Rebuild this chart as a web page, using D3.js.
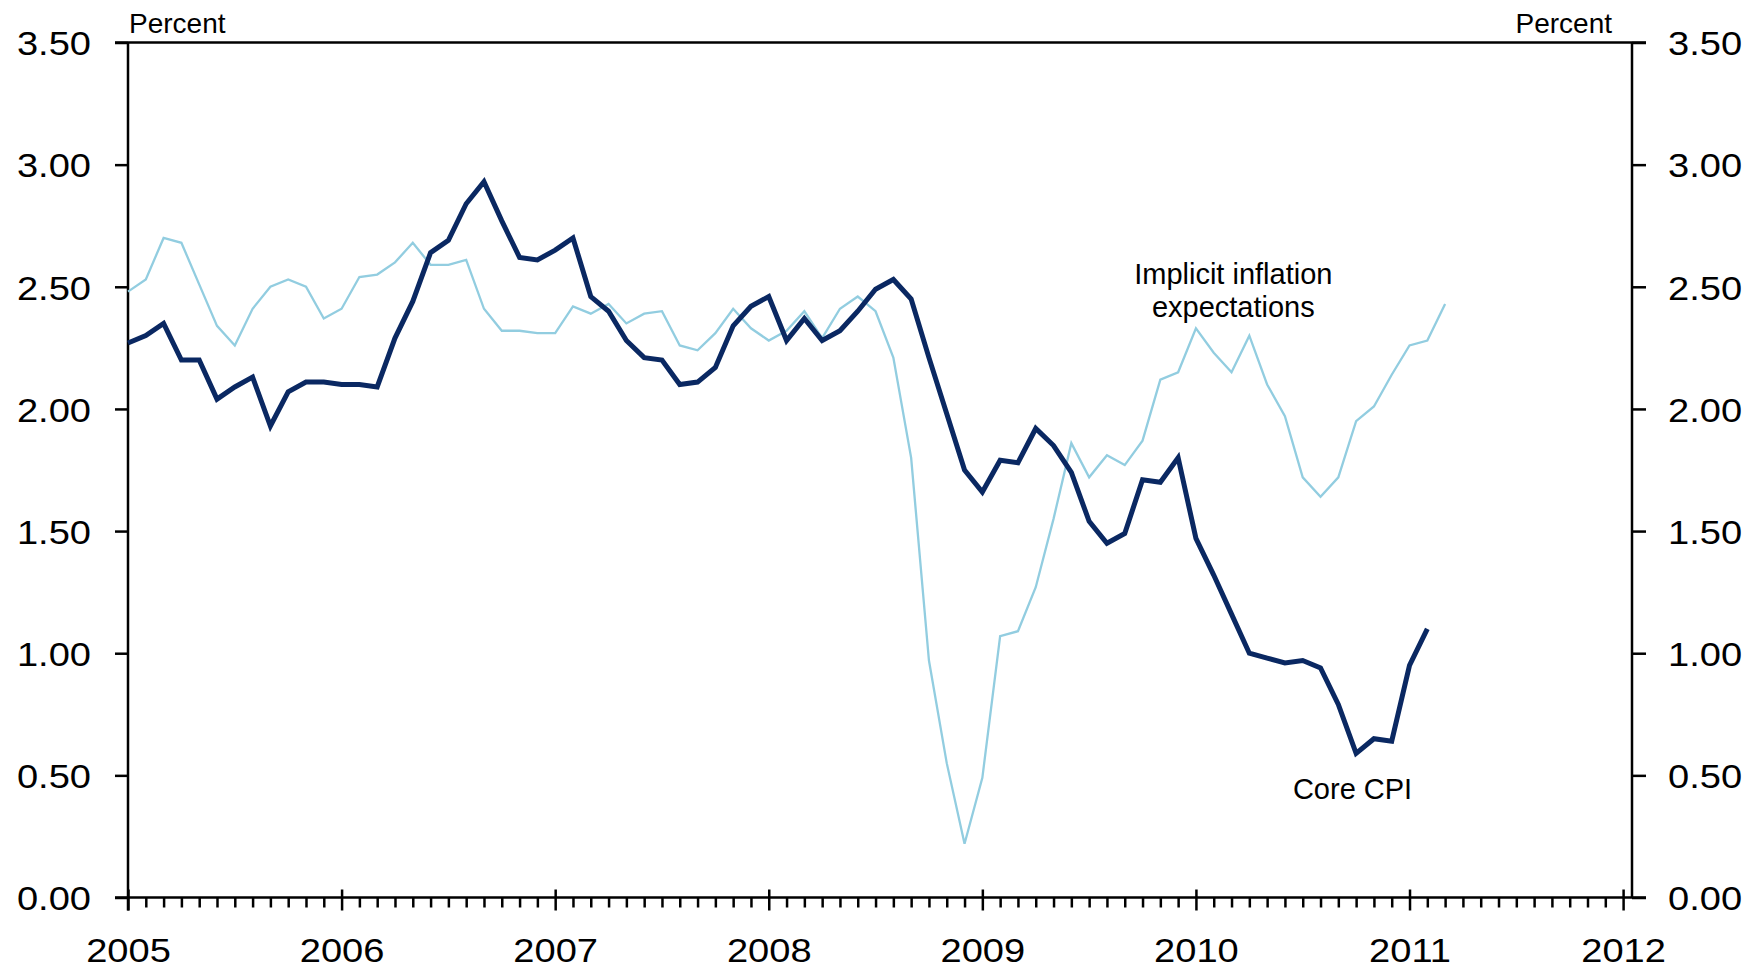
<!DOCTYPE html>
<html>
<head>
    <meta charset="utf-8">
    <title>Core CPI and implicit inflation expectations</title>
    <script src="https://d3js.org/d3.v7.min.js"></script>
    <style>
        body { margin: 0; background: #fff; }
        text { font-family: "Liberation Sans", Arial, sans-serif; fill: #000; }
    </style>
</head>
<body>
<div id="chart"></div>
<script>
    // Monthly data, starting January 2005 (index 0)
    var startYear = 2005;
    var yearLabels = ["2005", "2006", "2007", "2008", "2009", "2010", "2011", "2012"];
    var yTicks = [0, 0.5, 1.0, 1.5, 2.0, 2.5, 3.0, 3.5];

    var coreCPI = [
        2.27, 2.30, 2.35, 2.20, 2.20, 2.04, 2.09, 2.13, 1.93, 2.07, 2.11, 2.11,
        2.10, 2.10, 2.09, 2.29, 2.44, 2.64, 2.69, 2.84, 2.93, 2.77, 2.62, 2.61,
        2.65, 2.70, 2.46, 2.40, 2.28, 2.21, 2.20, 2.10, 2.11, 2.17, 2.34, 2.42,
        2.46, 2.28, 2.37, 2.28, 2.32, 2.40, 2.49, 2.53, 2.45, 2.21, 1.98, 1.75,
        1.66, 1.79, 1.78, 1.92, 1.85, 1.74, 1.54, 1.45, 1.49, 1.71, 1.70, 1.80,
        1.47, 1.32, 1.16, 1.00, 0.98, 0.96, 0.97, 0.94, 0.79, 0.59, 0.65, 0.64,
        0.95, 1.10
    ];

    var implicitExp = [
        2.48, 2.53, 2.70, 2.68, 2.51, 2.34, 2.26, 2.41, 2.50, 2.53, 2.50, 2.37,
        2.41, 2.54, 2.55, 2.60, 2.68, 2.59, 2.59, 2.61, 2.41, 2.32, 2.32, 2.31,
        2.31, 2.42, 2.39, 2.43, 2.35, 2.39, 2.40, 2.26, 2.24, 2.31, 2.41, 2.33,
        2.28, 2.32, 2.40, 2.29, 2.41, 2.46, 2.40, 2.21, 1.80, 0.97, 0.55, 0.22,
        0.49, 1.07, 1.09, 1.27, 1.55, 1.86, 1.72, 1.81, 1.77, 1.87, 2.12, 2.15,
        2.33, 2.23, 2.15, 2.30, 2.10, 1.97, 1.72, 1.64, 1.72, 1.95, 2.01, 2.14,
        2.26, 2.28, 2.43
    ];

    var width = 1748, height = 968;
    var plot = {left: 128, right: 1632, top: 42.5, bottom: 897.5};
    var stretch = 1.12; // tick labels in the original are drawn wide

    var svg = d3.select("#chart")
      .append("svg")
        .attr("width", width)
        .attr("height", height);

    // x: months since Jan 2005
    var x = d3.scaleLinear()
        .domain([0, 84.5])
        .range([plot.left, plot.right]);

    var y = d3.scaleLinear()
        .domain([0, 3.5])
        .range([plot.bottom, plot.top]);

    var majorTicks = yearLabels.map(function(d, i) { return i * 12; });
    var minorTicks = d3.range(0, 85).filter(function(m) { return m % 12 !== 0; });

    // Left axis
    var left = svg.append("g")
        .attr("transform", "translate(" + plot.left + ",0)")
        .call(d3.axisLeft(y).tickValues(yTicks).tickSize(13).tickFormat(d3.format(".2f")));
    left.selectAll("text")
        .attr("x", null).attr("dy", "0.36em")
        .attr("transform", "translate(-37,0) scale(" + stretch + ",1)")
        .style("font-size", "34px");

    // Right axis
    var right = svg.append("g")
        .attr("transform", "translate(" + plot.right + ",0)")
        .call(d3.axisRight(y).tickValues(yTicks).tickSize(14).tickFormat(d3.format(".2f")));
    right.selectAll("text")
        .attr("x", null).attr("dy", "0.36em")
        .attr("transform", "translate(36,0) scale(" + stretch + ",1)")
        .style("font-size", "34px");

    // Minor monthly ticks
    svg.append("g")
        .attr("transform", "translate(0," + plot.bottom + ")")
        .call(d3.axisBottom(x).tickValues(minorTicks).tickSize(10).tickFormat(""))
        .select(".domain").remove();

    // Major year ticks (cross the axis)
    var bottom = svg.append("g")
        .attr("transform", "translate(0," + plot.bottom + ")")
        .call(d3.axisBottom(x).tickValues(majorTicks)
            .tickFormat(function(d, i) { return yearLabels[i]; }));
    bottom.select(".domain").remove();
    bottom.selectAll(".tick line").attr("y1", -8).attr("y2", 13);
    bottom.selectAll("text")
        .attr("y", null).attr("dy", null)
        .attr("transform", "translate(0,64) scale(" + stretch + ",1)")
        .style("font-size", "34px");

    svg.selectAll(".domain").remove();
    svg.selectAll(".tick line").attr("stroke", "#000").attr("stroke-width", 2.5);

    // Frame lines (top line and bottom line reach the outer tick ends)
    svg.append("line")
        .attr("x1", plot.left - 13).attr("x2", plot.right + 14)
        .attr("y1", y(3.5)).attr("y2", y(3.5))
        .attr("stroke", "#000").attr("stroke-width", 2.5);
    svg.append("line")
        .attr("x1", plot.left - 13).attr("x2", plot.right + 14)
        .attr("y1", y(0)).attr("y2", y(0))
        .attr("stroke", "#000").attr("stroke-width", 2.5);
    svg.append("line")
        .attr("x1", plot.left).attr("x2", plot.left)
        .attr("y1", y(3.5)).attr("y2", y(0) + 13)
        .attr("stroke", "#000").attr("stroke-width", 2.5);
    svg.append("line")
        .attr("x1", plot.right).attr("x2", plot.right)
        .attr("y1", y(3.5)).attr("y2", y(0))
        .attr("stroke", "#000").attr("stroke-width", 2.5);

    // Unit labels
    svg.append("text")
        .attr("x", plot.left + 1).attr("y", 33)
        .style("font-size", "28px")
        .text("Percent");
    svg.append("text")
        .attr("x", plot.right - 20).attr("y", 33)
        .style("text-anchor", "end")
        .style("font-size", "28px")
        .text("Percent");

    // Lines
    var line = d3.line()
        .x(function(d, i) { return x(i); })
        .y(function(d) { return y(d); });

    svg.append("path")
        .datum(implicitExp)
        .attr("fill", "none")
        .attr("stroke", "#92cde0")
        .attr("stroke-width", 2.3)
        .attr("stroke-linejoin", "miter")
        .attr("d", line);

    svg.append("path")
        .datum(coreCPI)
        .attr("fill", "none")
        .attr("stroke", "#0a2862")
        .attr("stroke-width", 5)
        .attr("stroke-linejoin", "miter")
        .attr("d", line);

    // Series labels
    var lbl = svg.append("text")
        .attr("x", x(62.1)).attr("y", y(2.51))
        .style("text-anchor", "middle")
        .style("font-size", "29px");
    lbl.append("tspan").attr("x", x(62.1)).text("Implicit inflation");
    lbl.append("tspan").attr("x", x(62.1)).attr("dy", 33).text("expectations");

    svg.append("text")
        .attr("x", x(68.8)).attr("y", y(0.403))
        .style("text-anchor", "middle")
        .style("font-size", "29px")
        .text("Core CPI");
</script>
</body>
</html>
